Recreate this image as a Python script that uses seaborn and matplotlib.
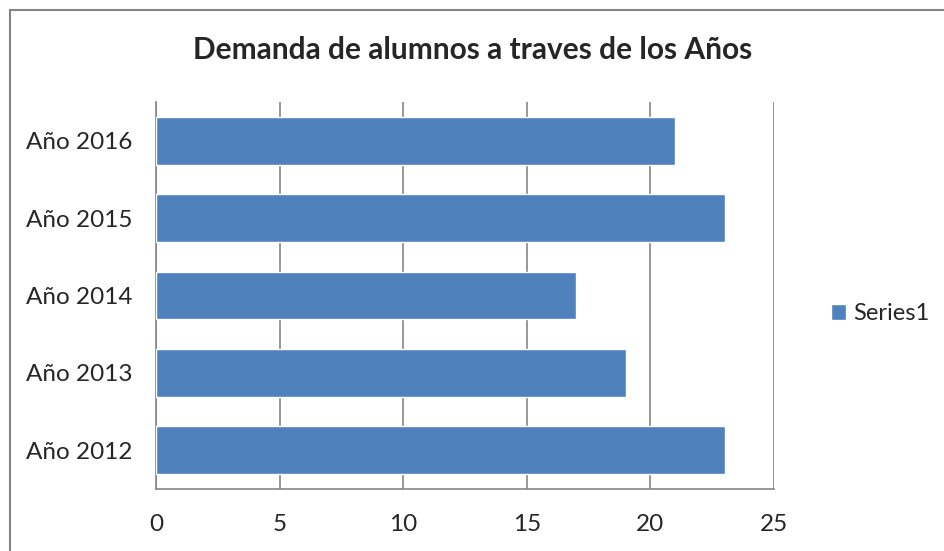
import matplotlib
matplotlib.use("Agg")
import matplotlib.pyplot as plt
import seaborn as sns
import pandas as pd
from matplotlib.patches import Rectangle

years = ["Año 2016", "Año 2015", "Año 2014", "Año 2013", "Año 2012"]
values = [21, 23, 17, 19, 23]
series_name = "Series1"
xticks = [0, 5, 10, 15, 20, 25]

sns.set_style("white")
plt.rcParams["font.family"] = ["Lato", "DejaVu Sans"]

df = pd.DataFrame({"year": years, "value": values})

fig = plt.figure(figsize=(9.45, 5.51), dpi=100)
ax = fig.add_axes([156 / 945, 1 - 489 / 551, (774 - 156) / 945, (489 - 102) / 551])

sns.barplot(data=df, x="value", y="year", orient="h", color="#4F81BD",
            saturation=1, width=0.62, ax=ax, label=series_name, zorder=3)

ax.set_xlim(0, 25)
ax.set_xticks(xticks)
ax.set_xlabel("")
ax.set_ylabel("")
ax.grid(axis="x", color="#868686", linewidth=1.2, zorder=0)
ax.set_axisbelow(True)
for side in ["top", "right"]:
    ax.spines[side].set_visible(False)
for side in ["left", "bottom"]:
    ax.spines[side].set_color("#868686")
    ax.spines[side].set_linewidth(1.2)
ax.tick_params(axis="x", length=5, color="#868686", width=1.2, pad=13, labelsize=17.5)
ax.tick_params(axis="y", length=0, pad=17, labelsize=17.5)
ax.set_ylim(4.5, -0.5)

fig.text(0.5, 1 - 50 / 551, "Demanda de alumnos a traves de los Años",
         ha="center", va="center", fontsize=21.5, fontweight="bold")

ax.legend(loc="center left", bbox_to_anchor=(831 / 945, 1 - 314 / 551),
          bbox_transform=fig.transFigure, frameon=False, fontsize=17,
          handlelength=0.65, handleheight=0.65, handletextpad=0.3, borderpad=0,
          borderaxespad=0)

# chart-area frame (bottom and right edges fall outside the image)
fig.patches.append(Rectangle((10 / 945, -0.05), 1, 1.05 - 10 / 551, transform=fig.transFigure,
                             fill=False, edgecolor="#868686", linewidth=1.5))

fig.savefig("out.png", dpi=100)
plt.close(fig)
